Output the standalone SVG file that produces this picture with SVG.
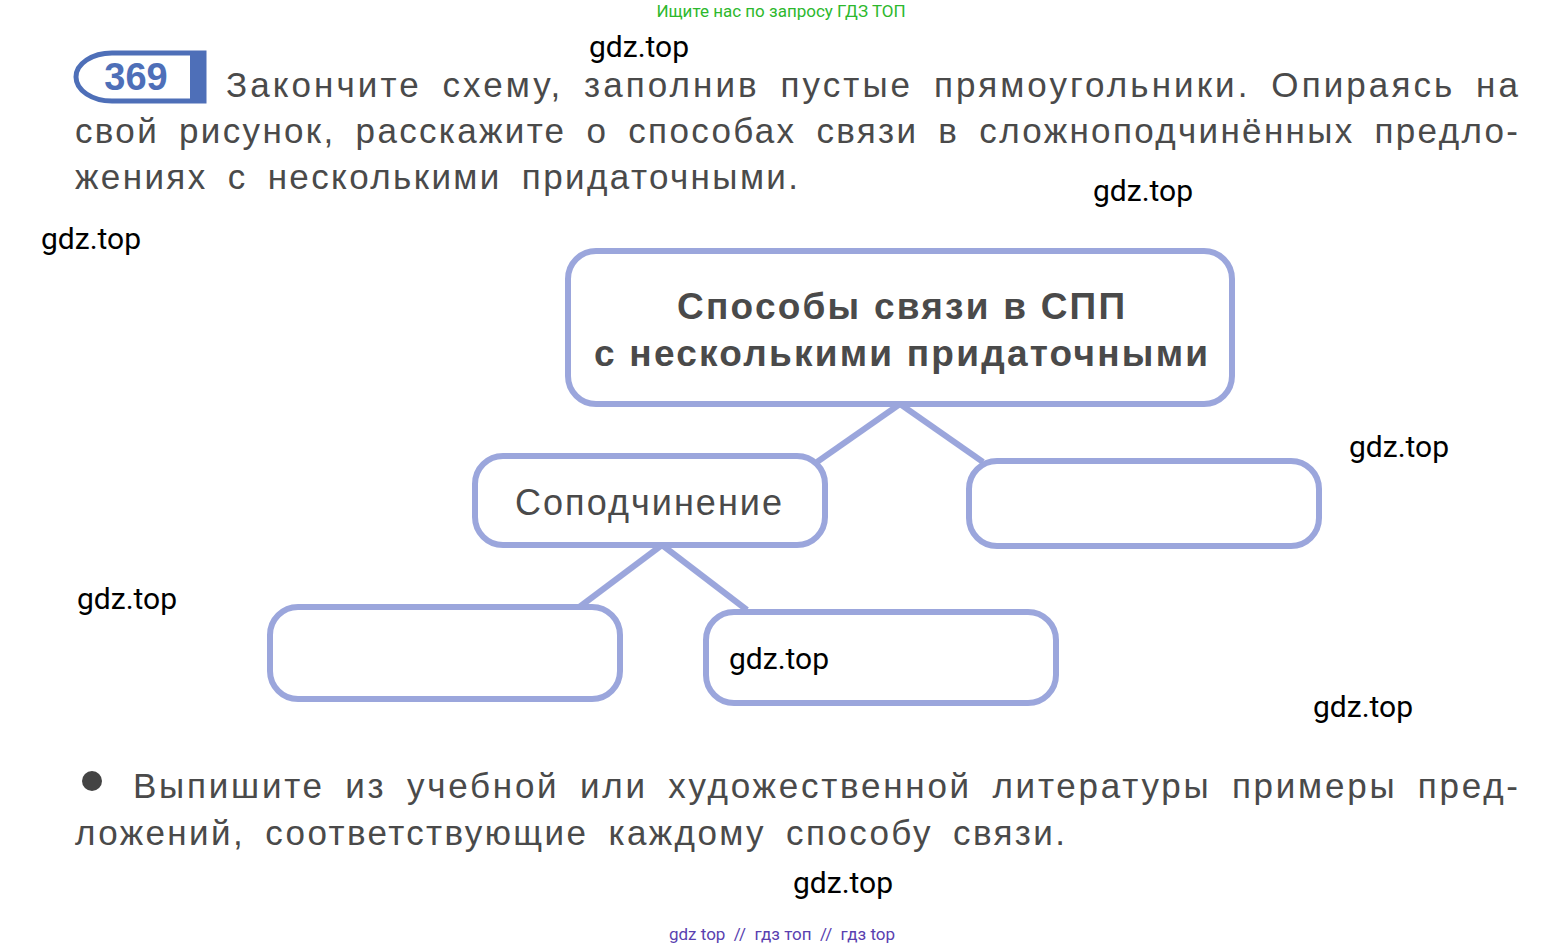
<svg xmlns="http://www.w3.org/2000/svg" width="1565" height="949" viewBox="0 0 1565 949">
<style>
.box{fill:#fff;stroke:#9ba6dc;stroke-width:6}
.con{stroke:#9ba6dc;stroke-width:6;fill:none}
.t{font-family:"Liberation Sans",Arial,sans-serif;fill:#4a4a4a}
.w{font-family:Roboto,"Liberation Sans",sans-serif;fill:#000;font-size:30px}
</style>
<rect width="1565" height="949" fill="#fff"/>
<text x="781" y="17" text-anchor="middle" font-family="Roboto,sans-serif" font-size="17" fill="#2db82d">Ищите нас по запросу ГДЗ ТОП</text>
<g id="badge">
<path d="M112,53 H204 V101 H112 A36,24 0 0 1 112,53 Z" fill="#fff" stroke="#4e6fb8" stroke-width="5"/>
<rect x="190" y="53" width="15" height="49" fill="#4e6fb8"/>
<text x="136" y="90" text-anchor="middle" font-family="Liberation Sans,sans-serif" font-weight="bold" font-size="38" fill="#4e6fb8">369</text>
</g>
<g class="t" font-size="35">
<text x="226" y="97" textLength="1292" lengthAdjust="spacing" word-spacing="8">Закончите схему, заполнив пустые прямоугольники. Опираясь на</text>
<text x="75" y="143" textLength="1443" lengthAdjust="spacing" word-spacing="8">свой рисунок, расскажите о способах связи в сложноподчинённых предло-</text>
<text x="75" y="189" textLength="723" lengthAdjust="spacing" word-spacing="8">жениях с несколькими придаточными.</text>
<text x="133" y="798" textLength="1385" lengthAdjust="spacing" word-spacing="8">Выпишите из учебной или художественной литературы примеры пред-</text>
<text x="75" y="845" textLength="990" lengthAdjust="spacing" word-spacing="8">ложений, соответствующие каждому способу связи.</text>
</g>
<circle cx="92" cy="781" r="10" fill="#444"/>
<g id="connectors">
<line class="con" x1="900" y1="404" x2="817" y2="462"/>
<line class="con" x1="900" y1="404" x2="983" y2="462"/>
<line class="con" x1="662" y1="545" x2="578" y2="608"/>
<line class="con" x1="662" y1="545" x2="747" y2="610"/>
</g>
<g id="root"><rect class="box" x="568" y="251" width="664" height="153" rx="28"/>
<text class="t" x="677" y="319" textLength="448" lengthAdjust="spacing" font-weight="bold" font-size="37">Способы связи в СПП</text>
<text class="t" x="594" y="366" textLength="614" lengthAdjust="spacing" font-weight="bold" font-size="37">с несколькими придаточными</text></g>
<g id="sopod"><rect class="box" x="475" y="456" width="350" height="89" rx="28"/>
<text class="t" x="515" y="515" textLength="267" lengthAdjust="spacing" font-size="36">Соподчинение</text></g>
<g id="right"><rect class="box" x="969" y="461" width="350" height="85" rx="28"/></g>
<g id="ll"><rect class="box" x="270" y="607" width="350" height="92" rx="28"/></g>
<g id="lr"><rect class="box" x="706" y="612" width="350" height="91" rx="28"/></g>
<g class="w">
<text x="589" y="57">gdz.top</text>
<text x="1093" y="201">gdz.top</text>
<text x="41" y="249">gdz.top</text>
<text x="1349" y="457">gdz.top</text>
<text x="77" y="609">gdz.top</text>
<text x="729" y="669">gdz.top</text>
<text x="1313" y="717">gdz.top</text>
<text x="793" y="893">gdz.top</text>
</g>
<text x="782" y="940" text-anchor="middle" font-family="Roboto,sans-serif" font-size="17" fill="#5a3fb0" xml:space="preserve">gdz top  //  гдз топ  //  гдз top</text>
</svg>
